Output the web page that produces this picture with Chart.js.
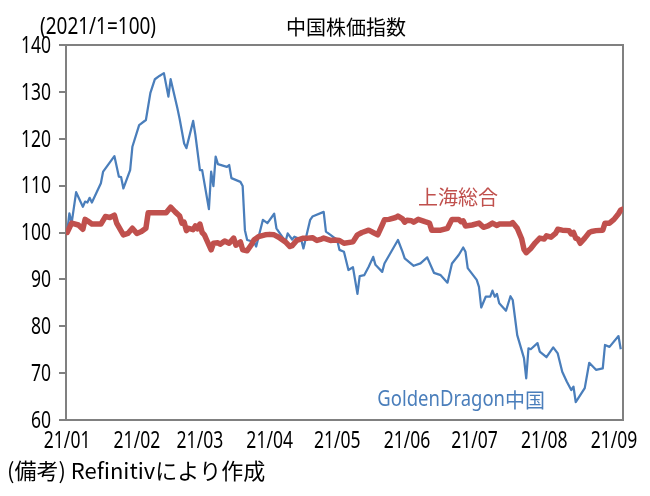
<!DOCTYPE html>
<html>
<head>
<meta charset="utf-8">
<script src="https://cdn.jsdelivr.net/npm/chart.js@4.4.1/dist/chart.umd.min.js"></script>
<style>
  html, body { margin: 0; padding: 0; background: #fff; }
</style>
</head>
<body>
<canvas id="chartChina" width="650" height="496"></canvas>
<script>
// month tick labels and their position (days since 2021/01/01)
const monthLabels = ["21/01", "21/02", "21/03", "21/04", "21/05", "21/06", "21/07", "21/08", "21/09"];
const monthDays = [0, 31, 59, 90, 120, 151, 181, 212, 243];

// GoldenDragon China index (2021/1=100)
const dragonDays = [0, 1, 2, 4, 7, 8, 9, 10, 11, 15, 16, 21, 23, 24, 25, 28, 29, 32, 35, 37,
  39, 41, 43, 45, 46, 49, 50, 52, 53, 56, 57, 59, 60, 63, 64, 65, 66, 67, 71, 72,
  73, 77, 78, 79, 80, 83, 84, 87, 89, 92, 93, 96, 97, 98, 100, 101, 104, 105, 108, 109,
  114, 115, 117, 120, 121, 123, 125, 127, 129, 130, 132, 134, 136, 137, 140, 141, 147, 149, 150, 154,
  157, 160, 163, 166, 169, 171, 174, 176, 177, 178, 182, 183, 184, 186, 188, 189, 190, 191, 192, 195,
  197, 198, 200, 203, 204, 205, 206, 209, 210, 213, 216, 218, 220, 222, 224, 225, 226, 230, 232, 235,
  238, 239, 241, 245, 246];
const dragonValues = [100, 104.1, 102, 108.6, 105.5, 106.6, 106.4, 107.4, 106.4, 110.5,
  113, 116.3, 111.9, 111.8, 109.4, 113.3, 118.3, 122.9, 124, 129.8,
  132.7, 133.4, 134, 129, 132.7, 126.5, 124.2, 119, 118, 123.8,
  120.8, 113.3, 113.3, 105, 113, 109.9, 116.2, 114.6, 114, 114.4,
  111.6, 110.8, 109.9, 100.5, 98.4, 98, 97, 102.7, 102, 104,
  100.9, 98.8, 98, 99.8, 98.5, 99.1, 98.5, 96.6, 102.7, 103.4,
  104.4, 100.2, 99.5, 98.4, 96.3, 95.9, 92, 92.6, 86.9, 90.7,
  90.9, 92.7, 94.8, 93.1, 91.6, 93.4, 98.4, 95.9, 94.5, 92.9,
  93.4, 94.7, 91.4, 90.9, 89.3, 93.4, 95.2, 96.8, 95.9, 92.4,
  89.9, 88.4, 84, 86.3, 86.3, 87.6, 86.3, 86.9, 84.9, 83.3,
  86.4, 85.6, 78.1, 73.2, 68.9, 75.3, 75.1, 76.4, 74.6, 73.4,
  75.5, 74.2, 70.3, 68.2, 66.4, 67.1, 63.8, 66.8, 72.2, 70.7,
  71, 76, 75.6, 77.9, 75.1];

// Shanghai Composite (2021/1=100)
const shanghaiDays = [0, 2, 5, 7, 8, 9, 11, 15, 17, 19, 21, 22, 25, 27, 29, 31, 33, 35, 36, 41,
  44, 46, 48, 50, 51, 52, 53, 54, 56, 57, 58, 59, 60, 61, 62, 64, 65, 67, 68, 70,
  72, 74, 75, 77, 78, 80, 82, 83, 85, 88, 90, 92, 94, 97, 99, 100, 102, 105, 107, 109,
  111, 113, 114, 117, 119, 121, 123, 127, 129, 131, 134, 136, 138, 140, 141, 143, 146, 147, 149, 150,
  151, 153, 154, 156, 159, 161, 162, 166, 169, 171, 174, 175, 176, 177, 180, 183, 185, 187, 189, 191,
  192, 197, 198, 200, 202, 203, 204, 206, 208, 210, 212, 213, 215, 217, 218, 220, 223, 224, 225, 226,
  227, 228, 230, 232, 233, 235, 238, 239, 241, 243, 245, 246, 247];
const shanghaiValues = [100, 102, 101.6, 100.7, 102.8, 102.5, 101.8, 101.8, 103.4, 103.2,
  103.7, 102, 99.5, 99.8, 100.9, 99.8, 100.2, 100.9, 104.2, 104.2,
  104.2, 105.4, 104.4, 103.5, 102, 102.2, 100.4, 100.9, 100.6, 101.4,
  100.8, 101.8, 100, 99.5, 98.4, 96.3, 97.7, 97.8, 97.5, 98.2,
  97.7, 98.8, 97.3, 98, 96.3, 96.1, 97.5, 98.4, 99.1, 99.5,
  99.6, 99.5, 99, 98, 97, 97.2, 98.3, 98.8, 98.8, 98.9,
  98.3, 98.6, 98.8, 98.3, 98.4, 98.3, 97.7, 98, 99.5, 100,
  100.5, 100, 99.5, 101.6, 102.7, 102.8, 103.2, 103.5, 102.9, 102.2,
  102.6, 102.5, 102.2, 102.8, 102.3, 102, 100.5, 100.5, 100.9, 102.8,
  102.8, 102.3, 102.5, 101.4, 101.6, 102, 101.1, 101.4, 102, 101.5,
  101.8, 101.8, 102.1, 100.9, 98.6, 96.4, 95.7, 96.6, 97.8, 98.8,
  98.6, 99.3, 99, 99.8, 100.7, 100.5, 100.4, 99.7, 100, 98.8,
  98.6, 97.7, 98.8, 100, 100.2, 100.4, 100.5, 102, 102, 102.8,
  104, 104.8, 105];

const BLUE = "#4a7ebb";
const RED = "#c0504d";
const LATIN = "'Noto Sans', 'DejaVu Sans', sans-serif";
const CJK = "'Noto Sans CJK JP', sans-serif";
const NARROW = 0.73; // the source uses a condensed half-width font

// draw text squeezed horizontally by sx, returns drawn width
function drawNarrow(ctx, text, x, y, align, sx) {
  const w = ctx.measureText(text).width * sx;
  const left = align === "center" ? x - w / 2 : align === "right" ? x - w : x;
  ctx.save();
  ctx.translate(left, y);
  ctx.scale(sx, 1);
  ctx.textAlign = "left";
  ctx.fillText(text, 0, 0);
  ctx.restore();
  return w;
}

// plot frame, tick labels and texts around the chart
const frameAndText = {
  id: "frameAndText",
  beforeDatasetsDraw(chart) {
    const { ctx, chartArea: a } = chart;
    ctx.save();
    ctx.strokeStyle = "#808080";
    ctx.lineWidth = 2;
    ctx.strokeRect(a.left, a.top, a.right - a.left, a.bottom - a.top);
    ctx.restore();
  },
  afterDraw(chart) {
    const ctx = chart.ctx;
    const xs = chart.scales.x;
    const ys = chart.scales.y;
    ctx.save();
    ctx.textBaseline = "middle";
    ctx.fillStyle = "#000";

    // tick labels
    ctx.font = "24px " + LATIN;
    xs.ticks.forEach((t) => {
      const lbl = monthLabels[monthDays.indexOf(t.value)];
      drawNarrow(ctx, lbl, xs.getPixelForValue(t.value), 441, "center", NARROW);
    });
    ys.ticks.forEach((t) => {
      drawNarrow(ctx, String(t.value), 51, ys.getPixelForValue(t.value) + 1, "right", NARROW);
    });

    // unit
    drawNarrow(ctx, "(2021/1=100)", 40, 27, "left", 0.79);

    // title
    ctx.font = "20px " + CJK;
    ctx.textAlign = "center";
    ctx.fillText("中国株価指数", 346, 27);

    // source note
    ctx.font = "22px " + CJK;
    ctx.textAlign = "left";
    ctx.fillText("(備考) Refinitivにより作成", 7, 471);

    // series labels
    ctx.fillStyle = RED;
    ctx.font = "20px " + CJK;
    ctx.fillText("上海総合", 418, 197);

    ctx.fillStyle = BLUE;
    ctx.textAlign = "right";
    ctx.fillText("中国", 545, 400);
    ctx.font = "22px " + LATIN;
    drawNarrow(ctx, "GoldenDragon", 505, 400, "right", 0.84);
    ctx.restore();
  }
};

new Chart(document.getElementById("chartChina"), {
  type: "line",
  data: {
    datasets: [
      {
        label: "上海総合",
        data: shanghaiDays.map((d, i) => ({ x: d, y: shanghaiValues[i] })),
        borderColor: RED,
        borderWidth: 5.5,
        borderJoinStyle: "round",
        borderCapStyle: "round",
        pointRadius: 0,
        tension: 0,
        order: 0,
      },
      {
        label: "GoldenDragon中国",
        data: dragonDays.map((d, i) => ({ x: d, y: dragonValues[i] })),
        borderColor: BLUE,
        borderWidth: 2.25,
        borderJoinStyle: "round",
        pointRadius: 0,
        tension: 0,
        order: 1,
      },
    ],
  },
  options: {
    responsive: false,
    animation: false,
    devicePixelRatio: 1,
    layout: { padding: { left: 0, top: 45, right: 27, bottom: 46 } },
    plugins: {
      legend: { display: false },
      tooltip: { enabled: false },
    },
    scales: {
      x: {
        type: "linear",
        min: -0.5,
        max: 247,
        afterBuildTicks: (scale) => {
          scale.ticks = monthDays.map((v) => ({ value: v }));
        },
        afterFit: (scale) => { scale.height = 30; },
        grid: { display: false },
        border: { display: false },
        ticks: { display: false, autoSkip: false, maxRotation: 0 },
      },
      y: {
        min: 60,
        max: 140,
        afterFit: (scale) => { scale.width = 66; },
        grid: {
          drawOnChartArea: false,
          drawTicks: true,
          tickLength: 7,
          color: "#808080",
          lineWidth: 2,
        },
        border: { display: false },
        ticks: { display: false, stepSize: 10 },
      },
    },
  },
  plugins: [frameAndText],
});
</script>
</body>
</html>
